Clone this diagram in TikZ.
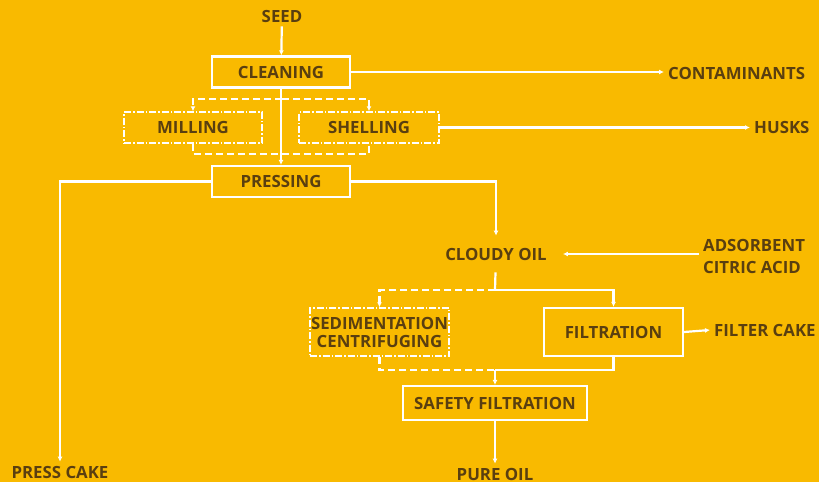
\documentclass[tikz,border=0pt]{standalone}
\usepackage{fontspec}
\setmainfont{Open Sans}
\usetikzlibrary{arrows.meta,positioning,calc}
\definecolor{bgyellow}{HTML}{F9BA00}
\definecolor{txtbrown}{HTML}{5A3F10}

\begin{document}
\begin{tikzpicture}[x=1pt,y=-1pt,>={Latex[length=5pt,width=5pt]},
  font=\bfseries\fontsize{16.8}{19}\selectfont,
  lbl/.style={text=txtbrown,inner sep=4pt},
  stagebox/.style={draw=white,line width=2.2pt,text=txtbrown,minimum width=138pt,minimum height=31pt},
  optbox/.style={stagebox,line width=1.5pt,dash pattern=on 7pt off 2pt on 1.5pt off 2pt},
  flow/.style={draw=white,line width=2.2pt,->},
  wl/.style={draw=white,line width=2.2pt},
  dsh/.style={draw=white,line width=2.2pt,dash pattern=on 7pt off 4pt}]
\fill[bgyellow] (0,0) rectangle (819,482);
\useasboundingbox (0,0) rectangle (819,482);
% stages
\node[stagebox] (clean) at (281,72) {CLEANING};
\node[optbox] (mill) at (193,127.5) {MILLING};
\node[optbox,minimum width=140pt] (shell) at (369,127.5) {SHELLING};
\node[stagebox] (press) at (281,181.5) {PRESSING};
\node[optbox,minimum width=139pt,minimum height=48pt,align=center,inner sep=1pt,
  font=\bfseries\fontsize{16.8}{18}\selectfont] (sed) at (379.5,332) {SEDIMENTATION\\CENTRIFUGING};
\node[stagebox,minimum width=139pt,minimum height=48pt] (filt) at (613.5,332) {FILTRATION};
\node[stagebox,minimum width=184pt,minimum height=34pt] (safe) at (495,403) {SAFETY FILTRATION};
% inputs and outputs
\node[lbl] (seed) at (282,16) {SEED};
\node[lbl,anchor=west] (contam) at (664,73) {CONTAMINANTS};
\node[lbl,anchor=west] (husks) at (750,127) {HUSKS};
\node[lbl,inner xsep=16pt,inner ysep=12pt] (cloudy) at (496,254) {CLOUDY OIL};
\node[lbl,anchor=west,align=left,font=\bfseries\fontsize{16.8}{22}\selectfont] (adsorb) at (699,256) {ADSORBENT\\CITRIC ACID};
\node[lbl,anchor=west] (fcake) at (710,330) {FILTER CAKE};
\node[lbl] (cake) at (60,472) {PRESS CAKE};
\node[lbl] (pure) at (495,474) {PURE OIL};
\coordinate (top) at (282,99);
\coordinate (bot) at (282,154);
\coordinate (split) at (495,290);
\coordinate (join) at (495,370);
% connectors
\draw[flow] (seed) -- (clean);
\draw[flow] (clean.east) -- (clean.east -| contam.west);
\draw[flow] (clean) -- (press);
\draw[dsh,->] (top) -| (mill);
\draw[dsh,->] (top) -| (shell);
\draw[dsh] (mill) |- (bot) -| (shell);
\draw[flow] (shell.east) -- (shell.east -| husks.west);
\draw[flow] (press.west) -| (cake);
\draw[flow] (press.east) -| (cloudy);
\draw[flow] (adsorb.west |- cloudy.east) -- (cloudy.east);
\draw[wl] (cloudy) -- (split);
\draw[flow] (split) -| (filt);
\draw[dsh,->] (split) -| (sed);
\draw[wl] (filt) |- (join);
\draw[dsh] (sed) |- (join);
\draw[flow] (join) -- (safe);
\draw[flow] (filt.east) -- (fcake.west);
\draw[flow] (safe) -- (pure);
\end{tikzpicture}
\end{document}
